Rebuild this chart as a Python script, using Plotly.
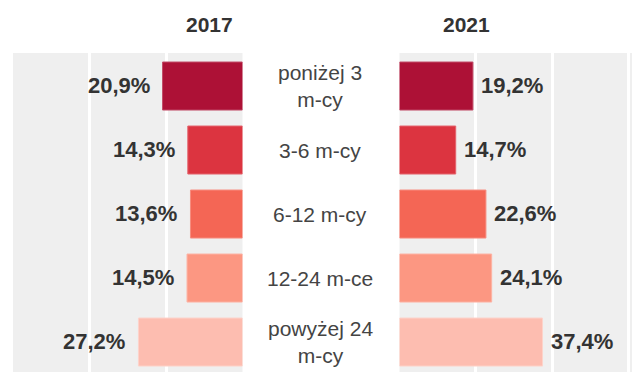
import plotly.graph_objects as go
from plotly.subplots import make_subplots

# Czas poszukiwania pracy: udział bezrobotnych wg okresu (2017 vs 2021)
categories = ["poniżej 3<br>m-cy", "3-6 m-cy", "6-12 m-cy", "12-24 m-ce", "powyżej 24<br>m-cy"]
values_2017 = [20.9, 14.3, 13.6, 14.5, 27.2]
values_2021 = [19.2, 14.7, 22.6, 24.1, 37.4]
year_labels = ["2017", "2021"]
bar_colors = ["#AD1136", "#DC3440", "#F46655", "#FC9782", "#FDBDB0"]
edge_colors = ["#C24A66", "#E4646D", "#F78C7F", "#FDB2A3", "#FDD3CA"]

W, H = 640, 372
FONT = "Liberation Sans, Arial, sans-serif"

def fmt(v):
    return f"{v:.1f}".replace(".", ",") + "%"

pos = list(range(len(categories)))

fig = make_subplots(rows=1, cols=2, shared_yaxes=True)

fig.add_trace(go.Bar(
    x=values_2017, y=pos, orientation="h", width=0.75,
    marker=dict(color=bar_colors, line=dict(color=edge_colors, width=1)),
    hoverinfo="skip", showlegend=False), row=1, col=1)
fig.add_trace(go.Bar(
    x=values_2021, y=pos, orientation="h", width=0.75,
    marker=dict(color=bar_colors, line=dict(color=edge_colors, width=1)),
    hoverinfo="skip", showlegend=False), row=1, col=2)

value_font = dict(family=FONT, size=22, color="#333333", weight="bold")

annotations = []
for i, (a, b) in enumerate(zip(values_2017, values_2021)):
    annotations.append(dict(x=a, y=i, xref="x", yref="y", text=fmt(a),
                            xanchor="right", yanchor="middle", xshift=-11, yshift=1,
                            showarrow=False, font=value_font))
    annotations.append(dict(x=b, y=i, xref="x2", yref="y", text=fmt(b),
                            xanchor="left", yanchor="middle", xshift=6, yshift=1,
                            showarrow=False, font=value_font))
    annotations.append(dict(x=0.5, y=i, xref="paper", yref="y", text=categories[i],
                            xanchor="center", yanchor="middle", showarrow=False,
                            font=dict(family=FONT, size=21, color="#444444")))

for lbl, px in zip(year_labels, [209, 466]):
    annotations.append(dict(x=px / W, y=1, xref="paper", yref="paper", text=lbl,
                            xanchor="center", yanchor="middle", yshift=29,
                            showarrow=False,
                            font=dict(family=FONT, size=21, color="#333333", weight="bold")))

fig.update_layout(
    width=W, height=H,
    margin=dict(l=0, r=0, t=53, b=0),
    paper_bgcolor="white", plot_bgcolor="#EFEFEF",
    bargap=0.25,
    annotations=annotations,
    xaxis=dict(domain=[13 / W, 242.5 / W], range=[60, 0], tickvals=[0, 20, 40],
               showticklabels=False, showgrid=True, gridcolor="white", gridwidth=3,
               zeroline=False, ticks="", fixedrange=True),
    xaxis2=dict(domain=[399.5 / W, 632 / W], range=[0, 60.8], tickvals=[20, 40, 60],
                showticklabels=False, showgrid=True, gridcolor="white", gridwidth=3,
                zeroline=False, ticks="", fixedrange=True),
    yaxis=dict(range=[4.468, -0.516], showticklabels=False, showgrid=False,
               zeroline=False, ticks=""),
    yaxis2=dict(range=[4.468, -0.516], showticklabels=False, showgrid=False,
                zeroline=False, ticks=""),
)

fig.write_html("out.html")
